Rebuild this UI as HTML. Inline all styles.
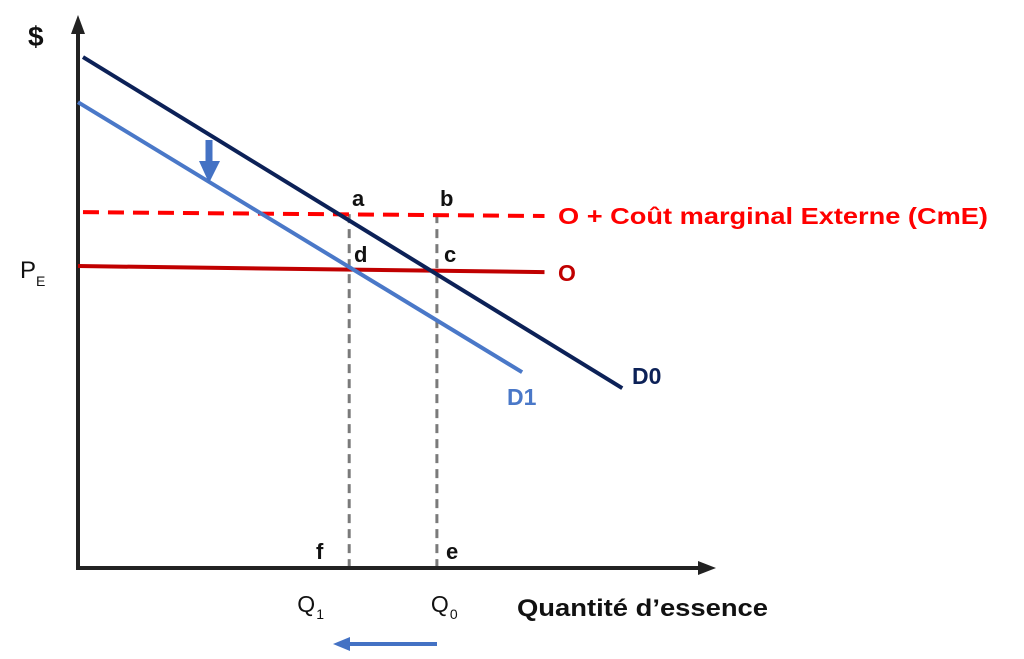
<!DOCTYPE html>
<html><head><meta charset="utf-8"><style>
body{margin:0;background:#fff}
svg{display:block;font-family:"Liberation Sans",sans-serif}
</style></head><body>
<svg id="c" width="1024" height="659" viewBox="0 0 1024 659">
</svg>
<script>
const demandD0 = [[0.8, 92.9], [87.5, 32.7]];
const demandD1 = [[0, 84.7], [71.4, 35.6]];
const supplyCmE = [[0.8, 64.7], [75, 64.0]];
const supplyO = [[0, 54.9], [75, 53.8]];
const quantities = [43.6, 57.7];
const quantityLabels = ["Q1", "Q0"];
const X = v => 78 + v * 6.22;
const Y = v => 568 - v * 5.5;
const svg = document.getElementById('c');
const NS = 'http://www.w3.org/2000/svg';
function mk(tag, attrs, name) {
  const e = document.createElementNS(NS, tag);
  for (const k in attrs) e.setAttribute(k, attrs[k]);
  
  
  svg.appendChild(e);
  return e;
}
function txt(x, y, s, attrs, name) {
  const e = mk('text', Object.assign({x, y}, attrs), name);
  e.textContent = s;
  return e;
}
function seg(d, attrs, name) {
  return mk('line', Object.assign({x1: X(d[0][0]), y1: Y(d[0][1]), x2: X(d[1][0]), y2: Y(d[1][1])}, attrs), name);
}
// axes
mk('line', {x1: 78, y1: 570, x2: 78, y2: 32, stroke: '#222', 'stroke-width': 4}, 'y-axis');
mk('polygon', {points: '71,34 85,34 78,15', fill: '#222'}, 'y-axis-arrowhead');
mk('line', {x1: 76, y1: 568, x2: 700, y2: 568, stroke: '#222', 'stroke-width': 4}, 'x-axis');
mk('polygon', {points: '698,561 698,575 716,568', fill: '#222'}, 'x-axis-arrowhead');
// vertical dashed
const intersectY = Y(supplyCmE[0][1]) + 2;
quantities.forEach((q, i) => {
  mk('line', {x1: X(q), y1: intersectY, x2: X(q), y2: 566, stroke: '#7a7a7a', 'stroke-width': 3, 'stroke-dasharray': '9,6'}, 'dashed-q-line');
});
seg(supplyCmE, {stroke: '#ff0000', 'stroke-width': 4, 'stroke-dasharray': '16,9'}, 'supply-plus-cme-line');
seg(supplyO, {stroke: '#c00000', 'stroke-width': 4}, 'supply-o-line');
seg(demandD1, {stroke: '#4a78c8', 'stroke-width': 4}, 'demand-d1-line');
seg(demandD0, {stroke: '#0c2157', 'stroke-width': 4}, 'demand-d0-line');
// arrows
mk('line', {x1: 209, y1: 140, x2: 209, y2: 163, stroke: '#4472c4', 'stroke-width': 7}, 'shift-arrow-shaft');
mk('polygon', {points: '199,161 220,161 209,183', fill: '#4472c4'}, 'shift-arrow-head');
mk('line', {x1: 437, y1: 644, x2: 350, y2: 644, stroke: '#4472c4', 'stroke-width': 4}, 'quantity-arrow-shaft');
mk('polygon', {points: '333,644 350,637 350,651', fill: '#4472c4'}, 'quantity-arrow-head');
// labels
const b = {'font-size': 22, 'font-weight': 'bold', fill: '#111'};
txt(28, 46, '$', {'font-size': 28, 'font-weight': 'bold', fill: '#111'}, 'y-axis-title');
txt(20, 278, 'P', {'font-size': 24, fill: '#111'}, 'pe-label');
txt(36, 286, 'E', {'font-size': 14, fill: '#111'}, 'pe-subscript');
txt(352, 206, 'a', b, 'point-a');
txt(440, 206, 'b', b, 'point-b');
txt(354, 262, 'd', b, 'point-d');
txt(444, 262, 'c', b, 'point-c');
txt(316, 559, 'f', b, 'point-f');
txt(446, 559, 'e', b, 'point-e');
txt(558, 224, 'O + Coût marginal Externe (CmE)', {'font-size': 23, 'font-weight': 'bold', fill: '#ff0000', textLength: 430, lengthAdjust: 'spacingAndGlyphs'}, 'cme-label');
txt(558, 281, 'O', {'font-size': 23, 'font-weight': 'bold', fill: '#c00000'}, 'o-label');
txt(632, 384, 'D0', {'font-size': 23, 'font-weight': 'bold', fill: '#0c2157'}, 'd0-label');
txt(507, 405, 'D1', {'font-size': 23, 'font-weight': 'bold', fill: '#4a78c8'}, 'd1-label');
const qOff = [-52, -6];
quantities.forEach((q, i) => {
  txt(X(q) + qOff[i], 612, quantityLabels[i][0], {'font-size': 23, fill: '#111'}, 'q-tick-label');
  txt(X(q) + qOff[i] + 19, 619, quantityLabels[i].slice(1), {'font-size': 14, fill: '#111'}, 'q-tick-subscript');
});
txt(517, 616, 'Quantité d’essence', {'font-size': 24, 'font-weight': 'bold', fill: '#111', textLength: 251, lengthAdjust: 'spacingAndGlyphs'}, 'x-axis-title');
</script>
</body></html>
